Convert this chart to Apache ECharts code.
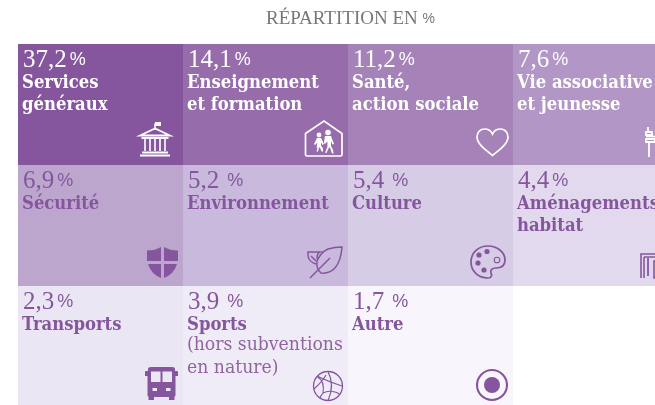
<!DOCTYPE html>
<html><head><meta charset="utf-8">
<style>html,body{margin:0;padding:0;background:#fff;overflow:hidden}#c{width:655px;height:405px}</style>
<script src="https://cdn.jsdelivr.net/npm/echarts@6/dist/echarts.min.js"></script>
</head><body><div id="c"></div>
<script>
const values = ['37,2','14,1','11,2','7,6','6,9','5,2','5,4','4,4','2,3','3,9','1,7'];
const spacedPct = [0,0,0,0,0,1,1,0,0,1,1];
const labels = ['Services\ngénéraux','Enseignement\net formation','Santé,\naction sociale','Vie associative\net jeunesse','Sécurité','Environnement','Culture','Aménagements\nhabitat','Transports','Sports','Autre'];
const notes = ['','','','','','','','','','(hors subventions\nen nature)',''];
const colors = ['#85569d','#966cab','#a583b8','#b296c6','#bda6ce','#c9b9dd','#d6cce5','#e3d9ee','#ebe6f4','#f0ecf7','#f8f6fc'];
const ink = '#85569d';
const SERIF = '"Liberation Serif"';
const SLAB = '"DejaVu Serif Condensed","DejaVu Serif"';
const CELL_W = 165, CELL_H = 121, PLOT_W = 637, PLOT_H = 361;

function s(d, w){return {type:'path',shape:{pathData:d},style:{fill:'none',lineWidth:w||1.6},stroke:1};}
function f(d){return {type:'path',shape:{pathData:d},style:{},fill:1};}
function dot(x,y,r){return {type:'circle',shape:{cx:x,cy:y,r:r},style:{},fill:1};}
function ring(x,y,r,w){return {type:'circle',shape:{cx:x,cy:y,r:r},style:{fill:'none',lineWidth:w||1.6},stroke:1};}

const icons = [
 {x:121,y:78,parts:[
   s('M16,8V1.5'),f('M16,0h6v4h-6z'),
   s('M1,13.5L16,6.5L31,13.5Z',1.8),s('M2.5,16H29.5',1.9),
   s('M6,17V29M11,17V29M16,17V29M21,17V29M26,17V29',1.6),
   s('M3,30.5H29M1,33.5H31',1.9)]},
 {x:121,y:76,parts:[
   s('M1.5,13.5L20,1L38,13.5V34.5Q38,36 36.5,36H3Q1.5,36 1.5,34.5Z',1.7),
   dot(15,15,2.4),dot(24,12.5,2.8),
   f('M13,18h4l3,6l-1.5,1l-1.5-2.5v3l2,3v3h-1.5l-1.5-4h-1l-1,4h-1.5l1-4h-1l1-5l-2.5,2.5l-1-1z'),
   f('M21,16h6l3,8l-1.5,.6l-1.5-3.5v5l2,4l.6,3.5h-1.6l-2-6h-1l-2.5,5.5l-1.4-.7l2.3-5.5v-5.5l-2.5,2.5l-1-1z')]},
 {x:128,y:84,parts:[
   s('M16.5,27.5C10,22 1,16 1,9C1,4 4.5,1 8.7,1C12,1 15,3 16.5,6C18,3 21,1 24.3,1C28.5,1 32,4 32,9C32,16 23,22 16.5,27.5Z',1.7)]},
 {x:115,y:82,parts:[
   s('M20,1V5M18,6H24V9H18ZM18,13H27V16H18ZM21,16V31',1.8),
   s('M18,10.5H27',1.6)]},
 {x:129,y:82,parts:[
   f('M0,3.5Q8,3.5 14,0V14H0Z'),f('M31,3.5Q23,3.5 17,0V14H31Z'),
   f('M1,17H14V31Q4,27 1,17Z'),f('M30,17H17V31Q27,27 30,17Z')]},
 {x:124,y:80,parts:[
   s('M3,33L23,13M35,2Q34,16 28,23Q22,29 14,28Q9,24 10,16Q14,7 21,4Q28,2 35,2Z',1.5),
   s('M10,14Q10,8 13,7H1V11Q2,17 9,19M4,11L9,16',1.5)]},
 {x:122,y:80,parts:[
   s('M18,1C8,1 1,8 1,17C1,26 8,33 18,33C22,33 22,30 21,28C20,25 22,23 26,23C32,23 35,20 35,15C35,7 27,1 18,1Z',1.7),
   dot(17,6.5,2.6),dot(9,10,2.6),dot(8,18,2.6),dot(14,25,2.6),ring(27,15,2.8,1.1)]},
 {x:127,y:87,parts:[
   s('M1,26V2H20M4,5H20M4,5V26M14,9H22V26H14Z',1.6),
   s('M8,6V24',1.8)]},
 {x:127,y:81,parts:[
   f('M3,2Q3,0 6,0H27Q30,0 30,2V4H32Q33,4 33,5V9H30.5V28Q30.5,29.5 29.5,29.5V33H24V30H9V33H3.5V29.5Q2.5,29.5 2.5,28V9H0V5Q0,4 1,4H3Z'),
   {type:'path',shape:{pathData:'M6,4.5H15.5V15H6ZM17.5,4.5H27V15H17.5ZM7.5,21h4.5v3H7.5ZM21,21h4.5v3H21Z'},style:{},bg:1}]},
 {x:130,y:85,parts:[
   ring(15,15,14.5,1.3),
   s('M15,0.5Q22,14 15,29.5M4,5Q14,10 29,15M1,18Q9,11 13,4M7,27Q10,18 22,21Q26,22 27,24M4.5,6Q12,10 10,22',1.2)]},
 {x:128,y:83,parts:[ring(16,16,15,2.1),dot(16,16,8)]}
];

const cells = values.map(function(_,i){return [i%4, Math.floor(i/4), i];});

const option = {
  animation:false,
  backgroundColor:'#ffffff',
  title:{text:'{t|RÉPARTITION EN }{p|%}',left:261,top:5,
    textStyle:{fontWeight:'normal',rich:{t:{fontFamily:SERIF,fontSize:19,fontWeight:'normal',color:'#777777'},p:{fontFamily:'"Liberation Sans"',fontSize:14,fontWeight:'normal',color:'#777777'}}}},
  grid:{left:18,top:44,width:PLOT_W,height:PLOT_H},
  xAxis:{type:'value',min:0,max:PLOT_W/CELL_W,show:false},
  yAxis:{type:'value',min:0,max:PLOT_H/CELL_H,show:false,inverse:true},
  series:[{
    type:'custom',
    clip:true,
    data:cells,
    encode:{x:0,y:1},
    renderItem:function(p,api){
      const i = api.value(2), col = api.value(0), row = api.value(1);
      const a = api.coord([col,row]), b = api.coord([col+1,row+1]);
      const x = a[0], y = a[1], w = b[0]-a[0], h = b[1]-a[1];
      const fg = i<4 ? '#ffffff' : ink;
      const ic = icons[i];
      const parts = ic.parts.map(function(q){
        const st = Object.assign({},q.style);
        if(q.stroke){st.stroke=fg;st.fill='none';}
        if(q.fill){st.fill=fg;}
        if(q.bg){st.fill=colors[i];}
        return {type:q.type,shape:q.shape,style:st};
      });
      const kids = [
        {type:'rect',shape:{x:x,y:y,width:w,height:h},style:{fill:colors[i]}},
        {type:'text',x:x+5,y:y+4,style:{
          text:'{n|'+values[i]+'}{p|%}',
          rich:{n:{fontFamily:SERIF,fontSize:25,fill:fg,padding:[0,spacedPct[i]?8:3,0,0]},p:{fontFamily:'"Liberation Sans"',fontSize:18,fill:fg}}
        }},
        {type:'text',x:x+4,y:y+29,style:{text:labels[i],fontFamily:SLAB,fontWeight:'bold',fontSize:18.3,lineHeight:21.5,fill:fg}},
        {type:'group',x:x+ic.x,y:y+ic.y,children:parts}
      ];
      if(notes[i]){
        kids.push({type:'text',x:x+4,y:y+48,style:{text:notes[i],fontFamily:SLAB,fontSize:19.2,lineHeight:22.5,fill:'#90659f'}});
      }
      return {type:'group',children:kids};
    }
  }]
};
echarts.init(document.getElementById('c'),null,{renderer:'canvas'}).setOption(option);
</script></body></html>
